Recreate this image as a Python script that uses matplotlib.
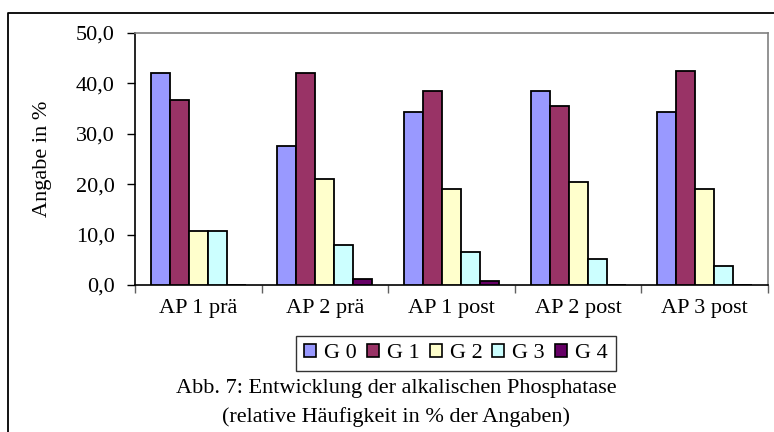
import numpy as np
import matplotlib.pyplot as plt
from matplotlib.lines import Line2D
from matplotlib.patches import Patch
from matplotlib.ticker import FuncFormatter

plt.rcParams['font.family'] = ['Liberation Serif', 'DejaVu Serif']
FS = 16

# relative frequency (%) per grade for each AP measurement
categories = ['AP 1 prä', 'AP 2 prä', 'AP 1 post', 'AP 2 post', 'AP 3 post']
series = ['G 0', 'G 1', 'G 2', 'G 3', 'G 4']
g0 = [42.0, 27.6, 34.4, 38.5, 34.4]
g1 = [36.8, 42.0, 38.5, 35.6, 42.5]
g2 = [10.7, 21.0, 19.0, 20.5, 19.0]
g3 = [10.7, 7.9, 6.6, 5.2, 3.8]
g4 = [0.0, 1.1, 0.7, 0.0, 0.0]
values = [g0, g1, g2, g3, g4]
colors = ['#9999FF', '#993366', '#FFFFCC', '#CCFFFF', '#660066']

fig = plt.figure(figsize=(7.74, 4.32), dpi=100)
ax = fig.add_axes([135 / 774, 1 - 285 / 432, (768 - 135) / 774, (285 - 33) / 432])

x = np.arange(len(categories))
w = 0.15
for i, (vals, col) in enumerate(zip(values, colors)):
    ax.bar(x + (i - 2) * w, vals, width=w, color=col, edgecolor='black',
           linewidth=1.3, zorder=3)

ax.set_xlim(-0.5, len(categories) - 0.5)
ax.set_ylim(0, 50)
ax.set_yticks(np.arange(0, 51, 10))
ax.yaxis.set_major_formatter(FuncFormatter(lambda v, p: f'{v:.1f}'.replace('.', ',')))
ax.set_xticks(x)
ax.set_xticklabels(categories)
ax.set_xticks(np.arange(-0.5, len(categories), 1), minor=True)
ax.tick_params(axis='x', which='major', length=0, pad=10, labelsize=FS)
ax.tick_params(axis='x', which='minor', length=6, width=1, color='#606060', direction='out')
ax.tick_params(axis='y', length=6, width=1, direction='out', labelsize=FS, pad=8.6)
ax.set_ylabel('Angabe in %', fontsize=FS)
ax.yaxis.set_label_coords((52 - 135) / (768 - 135), 0.5)

for side in ['top', 'right']:
    ax.spines[side].set_color('#808080')
    ax.spines[side].set_linewidth(1.2)
for side in ['left', 'bottom']:
    ax.spines[side].set_color('black')
    ax.spines[side].set_linewidth(1.2)

handles = [Patch(facecolor=c, edgecolor='black', linewidth=1.2, label=s)
           for c, s in zip(colors, series)]
leg = fig.legend(handles=handles, loc='center', bbox_to_anchor=(456 / 774, 1 - 353.5 / 432),
                 ncol=5, frameon=True, fancybox=False, edgecolor='black',
                 handlelength=0.54, handleheight=0.54, handletextpad=0.36,
                 columnspacing=0.45, borderpad=0.36, borderaxespad=0, fontsize=FS)
leg.get_frame().set_linewidth(1.0)

fig.text(396 / 774, 1 - 388 / 432, 'Abb. 7: Entwicklung der alkalischen Phosphatase',
         ha='center', va='center', fontsize=FS)
fig.text(396 / 774, 1 - 417 / 432, '(relative Häufigkeit in % der Angaben)',
         ha='center', va='center', fontsize=FS)

# outer frame around the chart object (left and top edges)
fig.add_artist(Line2D([8 / 774, 8 / 774, 1.0], [0.0, 1 - 13 / 432, 1 - 13 / 432],
                      transform=fig.transFigure, color='black', linewidth=1.3))

fig.savefig('out.png', dpi=100)
